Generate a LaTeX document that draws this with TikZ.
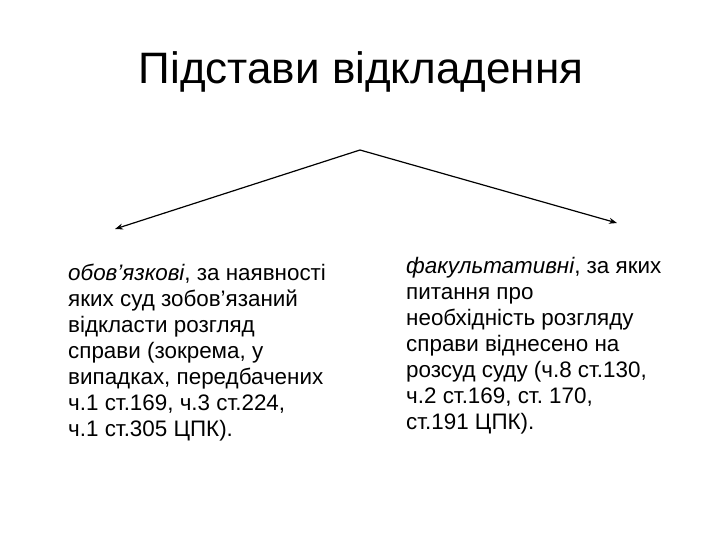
\documentclass[tikz,border=0pt]{standalone}
\usepackage{fontspec}
\setmainfont{Liberation Sans}
\usetikzlibrary{arrows.meta}
\frenchspacing
\begin{document}
\begin{tikzpicture}[x=1pt,y=-1pt,
  body/.style={anchor=north west,align=left,inner sep=0pt,font=\fontsize{22.4}{26}\selectfont},
  conn/.style={line width=1.2pt,-{Stealth[length=8pt,width=6pt]}}]
\useasboundingbox (0,0) rectangle (720,540);
\node[font=\fontsize{44}{50}\selectfont,inner sep=0pt] (title) at (361,72) {Підстави відкладення};
\coordinate (apex) at (360,150);
\coordinate (ltip) at (115,229);
\coordinate (rtip) at (617,223);
\draw[conn] (apex) -- (ltip);
\draw[conn] (apex) -- (rtip);
\node[body] (left) at (68,264) {\textit{обов’язкові}, за наявності\\яких суд зобов’язаний\\відкласти розгляд\\справи (зокрема, у\\випадках, передбачених\\ч.1 ст.169, ч.3 ст.224,\\ч.1 ст.305 ЦПК).};
\node[body] (right) at (406,257) {\textit{факультативні}, за яких\\питання про\\необхідність розгляду\\справи віднесено на\\розсуд суду (ч.8 ст.130,\\ч.2 ст.169, ст. 170,\\ст.191 ЦПК).};
\end{tikzpicture}
\end{document}
